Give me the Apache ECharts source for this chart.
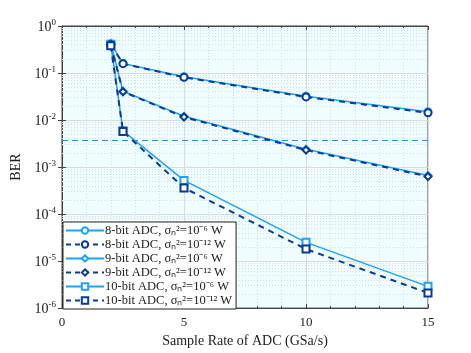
<!DOCTYPE html>
<html>
<head>
<meta charset="utf-8">
<script src="https://cdn.jsdelivr.net/npm/echarts@6/dist/echarts.min.js"></script>
<style>
  html, body { margin: 0; padding: 0; background: #fff; }
  #content { width: 471px; height: 353px; }
</style>
</head>
<body>
<div id="content"></div>
<script>
const sampleRates = [2, 2.5, 5, 10, 15];
const ber8Low = [0.42, 0.16, 0.083, 0.032, 0.015];
const ber8High = [0.40, 0.158, 0.081, 0.031, 0.0142];
const ber9Low = [0.42, 0.041, 0.012, 0.0024, 0.00066];
const ber9High = [0.40, 0.040, 0.0116, 0.0023, 0.00063];
const ber10Low = [0.41, 0.0059, 0.00052, 0.000025, 0.0000029];
const ber10High = [0.38, 0.0057, 0.00036, 0.000018, 0.0000021];
const fecLimit = 0.0038;
const names = [
  '8-bit ADC, σ\u2099\u00b2=10\u207b\u2076 W',
  '8-bit ADC, σ\u2099\u00b2=10\u207b\u00b9\u00b2 W',
  '9-bit ADC, σ\u2099\u00b2=10\u207b\u2076 W',
  '9-bit ADC, σ\u2099\u00b2=10\u207b\u00b9\u00b2 W',
  '10-bit ADC, σ\u2099\u00b2=10\u207b\u2076 W',
  '10-bit ADC, σ\u2099\u00b2=10\u207b\u00b9\u00b2 W'
];

const light = '#1ea2f2';
const dark = '#0b3a92';
const font = 'Liberation Serif';

const zip = ys => sampleRates.map((x, i) => [x, ys[i]]);

// minor log grid (2..9 per decade)
const minorY = [];
for (let e = -6; e < 0; e++) {
  for (let m = 2; m <= 9; m++) minorY.push({ coords: [[0, m * Math.pow(10, e)], [15, m * Math.pow(10, e)]] });
}

function line(name, ys, dashed, symbol) {
  return {
    name: name,
    type: 'line',
    data: zip(ys),
    symbol: symbol,
    symbolSize: 7,
    showAllSymbol: true,
    z: dashed ? 4 : 3,
    lineStyle: { color: dashed ? dark : light, width: dashed ? 2 : 1.5, type: dashed ? [6, 5] : 'solid' },
    itemStyle: { color: dashed ? dark : light, borderWidth: dashed ? 2.2 : 1.6, borderColor: dashed ? dark : light },
    animation: false
  };
}

const axisColor = '#444';
const xBase = {
  type: 'value', min: 0, max: 15, interval: 5,
  axisLine: { lineStyle: { color: axisColor } },
  axisTick: { inside: true, length: 4, lineStyle: { color: axisColor } },
  minorTick: { show: true, splitNumber: 5, length: 2, lineStyle: { color: axisColor } }
};
const yBase = {
  type: 'log', min: 1e-6, max: 1, logBase: 10,
  axisLine: { lineStyle: { color: axisColor } },
  axisTick: { inside: true, length: 4, lineStyle: { color: axisColor } }
};

const chart = echarts.init(document.getElementById('content'));
const option = {
  animation: false,
  grid: {
    left: 62, right: 43, top: 26, bottom: 38,
    show: true, backgroundColor: '#effdff', borderColor: axisColor, borderWidth: 1
  },
  xAxis: [
    Object.assign({}, xBase, {
      name: 'Sample Rate of ADC (GSa/s)', nameLocation: 'middle', nameGap: 24,
      nameTextStyle: { fontFamily: font, fontSize: 14, color: '#222' },
      axisLabel: { fontFamily: font, fontSize: 13, color: '#222', margin: 8 },
      splitLine: { lineStyle: { color: '#d8dcdc' } },
      minorSplitLine: { show: true, lineStyle: { color: '#d8dcdc', type: [1, 2] } }
    }),
    Object.assign({}, xBase, {
      position: 'top', axisLabel: { show: false }, splitLine: { show: false }
    })
  ],
  yAxis: [
    Object.assign({}, yBase, {
      name: 'BER', nameLocation: 'middle', nameGap: 32,
      nameTextStyle: { fontFamily: font, fontSize: 14, color: '#222' },
      axisLabel: {
        fontFamily: font, color: '#222', margin: 6,
        formatter: v => '{b|10}{s|' + Math.round(Math.log10(v)) + '}',
        rich: {
          b: { fontFamily: font, fontSize: 14, color: '#222', lineHeight: 16, verticalAlign: 'bottom' },
          s: { fontFamily: font, fontSize: 9, color: '#222', lineHeight: 16, verticalAlign: 'top' }
        }
      },
      splitLine: { lineStyle: { color: '#d8dcdc' } }
    }),
    Object.assign({}, yBase, {
      position: 'right', axisLabel: { show: false }, splitLine: { show: false }
    })
  ],
  legend: {
    data: names.map((n, i) => ({
      name: n,
      lineStyle: { type: i % 2 ? [5, 4] : 'solid' }
    })),
    orient: 'vertical',
    left: 63, top: 222,
    backgroundColor: '#fff', borderColor: '#222', borderWidth: 1,
    padding: [2, 4, 2, 2],
    itemGap: 1, itemWidth: 38, itemHeight: 8,
    textStyle: { fontFamily: font, fontSize: 12.5, color: '#222', padding: [0, 0, 0, -4] }
  },
  series: [
    {
      type: 'lines', coordinateSystem: 'cartesian2d', silent: true, z: 1,
      lineStyle: { color: '#d8dcdc', type: [1, 2], width: 1, opacity: 1 },
      data: minorY
    },
    {
      type: 'lines', coordinateSystem: 'cartesian2d', silent: true, z: 2,
      lineStyle: { color: '#2e8bd6', type: [6, 4], width: 1.2, opacity: 1 },
      data: [{ coords: [[0, fecLimit], [15, fecLimit]] }]
    },
    line(names[0], ber8Low, false, 'emptyCircle'),
    line(names[1], ber8High, true, 'emptyCircle'),
    line(names[2], ber9Low, false, 'emptyDiamond'),
    line(names[3], ber9High, true, 'emptyDiamond'),
    line(names[4], ber10Low, false, 'emptyRect'),
    line(names[5], ber10High, true, 'emptyRect')
  ]
};
chart.setOption(option);
</script>
</body>
</html>
